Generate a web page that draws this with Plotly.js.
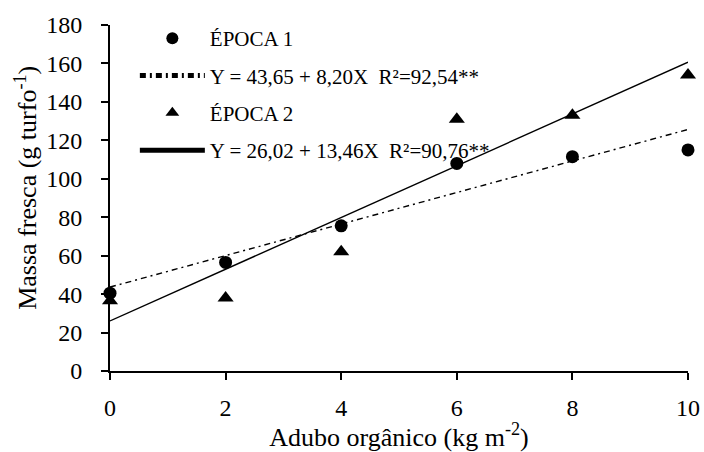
<!DOCTYPE html>
<html>
<head>
<meta charset="utf-8">
<script src="https://cdn.plot.ly/plotly-3.0.1.min.js"></script>
<style>html,body{margin:0;padding:0;background:#fff;}#chart{width:704px;height:452px;}</style>
</head>
<body>
<div id="chart"></div>
<script>
const doses = [0, 2, 4, 6, 8, 10];
const epoca1 = [40.5, 56.5, 75.5, 108, 111.5, 115];
const epoca2 = [36.5, 38, 62, 131, 133, 154];
const fitX = [0, 10];
const fit1 = [43.65, 125.65];
const fit2 = [26.02, 160.62];
const xTicks = [0, 2, 4, 6, 8, 10];
const yTicks = [0, 20, 40, 60, 80, 100, 120, 140, 160, 180];
const names = ['ÉPOCA 1', 'Y = 43,65 + 8,20X  R²=92,54**', 'ÉPOCA 2', 'Y = 26,02 + 13,46X  R²=90,76**'];
const xTitle = 'Adubo orgânico (kg m<sup>-2</sup>)';
const yTitle = 'Massa fresca (g turfo<sup>-1</sup>)';

const FONT = 'Liberation Serif';

const traces = [
  {x: fitX, y: fit2, mode: 'lines', name: names[3], legendgroup: 'd', legendrank: 4,
   line: {color: '#000', width: 1.4}, showlegend: true, cliponaxis: false},
  {x: fitX, y: fit1, mode: 'lines', name: names[1], legendgroup: 'b', legendrank: 2,
   line: {color: '#000', width: 1.4, dash: '6px,4px,2px,4px'}, cliponaxis: false},
  {x: doses, y: epoca1, mode: 'markers', name: names[0], legendgroup: 'a', legendrank: 1,
   marker: {symbol: 'circle', size: 13, color: '#000'}, cliponaxis: false},
  {x: doses, y: epoca2, mode: 'markers', name: names[2], legendgroup: 'c', legendrank: 3,
   marker: {symbol: 'triangle-up', size: 14, color: '#000'}, cliponaxis: false}
];

const layout = {
  width: 704, height: 452,
  margin: {l: 110, r: 16, t: 25, b: 81},
  paper_bgcolor: '#fff', plot_bgcolor: '#fff',
  font: {family: FONT, color: '#000', size: 20},
  showlegend: true,
  legend: {x: 0.043, y: 1.02, yanchor: 'top', xanchor: 'left',
    font: {family: FONT, size: 21, color: '#000'}, bgcolor: 'rgba(0,0,0,0)',
    tracegroupgap: 7, itemwidth: 65, itemsizing: 'constant', traceorder: 'grouped'},
  xaxis: {range: [0, 10], tickvals: xTicks, ticktext: xTicks.map(String),
    showgrid: false, zeroline: false, showline: true, linecolor: '#000', linewidth: 2,
    ticks: 'outside', ticklen: 7, tickwidth: 2, tickcolor: '#000',
    tickfont: {family: FONT, size: 24, color: '#000'}, ticklabelstandoff: 7,
    title: {text: xTitle, font: {family: FONT, size: 26, color: '#000'}, standoff: 14}},
  yaxis: {range: [0, 180], tickvals: yTicks, ticktext: yTicks.map(String),
    showgrid: false, zeroline: false, showline: true, linecolor: '#000', linewidth: 2,
    ticks: 'outside', ticklen: 7, tickwidth: 2, tickcolor: '#000',
    tickfont: {family: FONT, size: 24, color: '#000'}, ticklabelstandoff: 14},
  annotations: [{text: yTitle, xref: 'paper', yref: 'paper', x: -0.145, y: 0.53,
    xanchor: 'center', yanchor: 'middle', textangle: -90, showarrow: false,
    font: {family: FONT, size: 26, color: '#000'}}]
};
Plotly.newPlot('chart', traces, layout, {displayModeBar: false, staticPlot: true});
</script>
</body>
</html>
